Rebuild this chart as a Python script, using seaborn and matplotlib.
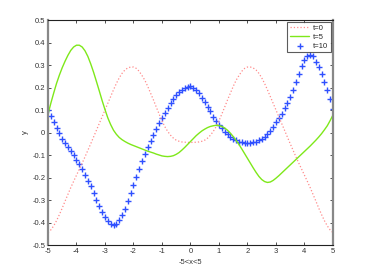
import numpy as np
import pandas as pd
import matplotlib
matplotlib.use("Agg")
import matplotlib.pyplot as plt
import seaborn as sns

# x grid shared by the three snapshots
x = np.linspace(-5, 5, 101)

# t=0 (red dotted)
y_t0 = [-0.445, -0.433, -0.415, -0.392, -0.365, -0.336, -0.305, -0.275, -0.245, -0.217,
        -0.190, -0.163, -0.136, -0.108, -0.079, -0.050, -0.020, 0.010, 0.040, 0.070,
        0.100, 0.130, 0.160, 0.190, 0.218, 0.243, 0.263, 0.278, 0.287, 0.291,
        0.291, 0.285, 0.272, 0.253, 0.232, 0.205, 0.175, 0.145, 0.113, 0.082,
        0.052, 0.026, 0.005, -0.012, -0.025, -0.034, -0.039, -0.042, -0.043, -0.044,
        -0.044,
        -0.044, -0.043, -0.042, -0.039, -0.034, -0.025, -0.012, 0.005, 0.026, 0.052,
        0.082, 0.113, 0.145, 0.175, 0.205, 0.232, 0.253, 0.272, 0.285, 0.291,
        0.291, 0.287, 0.278, 0.263, 0.243, 0.218, 0.190, 0.160, 0.130, 0.100,
        0.070, 0.040, 0.010, -0.020, -0.050, -0.079, -0.108, -0.136, -0.163, -0.190,
        -0.217, -0.245, -0.275, -0.305, -0.336, -0.365, -0.392, -0.415, -0.433, -0.445]

# t=5 (green solid)
y_t5 = [0.080, 0.130, 0.175, 0.218, 0.255, 0.288, 0.317, 0.343, 0.365, 0.380,
        0.388, 0.388, 0.380, 0.363, 0.338, 0.305, 0.268, 0.227, 0.185, 0.142,
        0.102, 0.065, 0.035, 0.010, -0.008, -0.022, -0.032, -0.040, -0.047, -0.053,
        -0.058, -0.063, -0.068, -0.073, -0.078, -0.083, -0.087, -0.091, -0.096, -0.100,
        -0.104, -0.106, -0.107, -0.106, -0.103, -0.097, -0.089, -0.078, -0.066, -0.053,
        -0.040,
        -0.027, -0.014, -0.003, 0.007, 0.015, 0.022, 0.027, 0.030, 0.032, 0.031,
        0.027, 0.020, 0.010, -0.003, -0.018, -0.035, -0.053, -0.073, -0.094, -0.115,
        -0.136, -0.157, -0.177, -0.195, -0.209, -0.218, -0.222, -0.220, -0.213, -0.203,
        -0.192, -0.180, -0.168, -0.156, -0.144, -0.132, -0.120, -0.108, -0.096, -0.084,
        -0.072, -0.060, -0.047, -0.034, -0.020, -0.005, 0.012, 0.030, 0.053, 0.078]

# t=10 (blue plus markers)
y_t10 = [0.100, 0.075, 0.048, 0.021, -0.004, -0.027, -0.045, -0.063, -0.081, -0.101,
         -0.121, -0.140, -0.162, -0.187, -0.214, -0.239, -0.267, -0.298, -0.327, -0.353,
         -0.376, -0.393, -0.405, -0.410, -0.407, -0.390, -0.368, -0.339, -0.304, -0.269,
         -0.232, -0.196, -0.161, -0.125, -0.094, -0.064, -0.039, -0.010, 0.016, 0.042,
         0.065, 0.088, 0.110, 0.130, 0.150, 0.166, 0.180, 0.191, 0.199, 0.204,
         0.205,
         0.200, 0.190, 0.175, 0.155, 0.136, 0.115, 0.094, 0.070, 0.050,
         0.032, 0.018, 0.004, -0.008, -0.018, -0.027, -0.034, -0.040, -0.044, -0.045,
         -0.045, -0.045, -0.043, -0.040, -0.035, -0.029, -0.020, -0.008, 0.008, 0.026,
         0.045, 0.064, 0.084, 0.107, 0.133, 0.160, 0.190, 0.225, 0.260, 0.295,
         0.323, 0.340, 0.345, 0.338, 0.315, 0.290, 0.260, 0.225, 0.190, 0.150, 0.105]

labels = ['t=0', 't=5', 't=10']

sns.set_style('ticks')
plt.rcParams['font.family'] = ['Liberation Sans', 'DejaVu Sans']
plt.rcParams['axes.unicode_minus'] = False

fig = plt.figure(figsize=(3.69, 2.76), dpi=100)
ax = fig.add_axes([0.13, 0.1123, 0.7724, 0.8152])

sns.lineplot(x=x, y=y_t0, ax=ax, color='#ff8a8a', linestyle=':', linewidth=0.9, label=labels[0])
sns.lineplot(x=x, y=y_t5, ax=ax, color='#7ee81a', linewidth=1.0, label=labels[1])
sns.scatterplot(x=x, y=y_t10, ax=ax, marker='+', color='#2f50ff', s=14, linewidth=1.0, label=labels[2])

ax.set_xlim(-5, 5)
ax.set_ylim(-0.5, 0.5)
ax.set_xticks(range(-5, 6))
ax.set_yticks(np.round(np.arange(-0.5, 0.51, 0.1), 1))
ax.set_yticklabels(['-0.5', '-0.4', '-0.3', '-0.2', '-0.1', '0', '0.1', '0.2', '0.3', '0.4', '0.5'])
ax.tick_params(direction='in', length=2.5, width=0.6, labelsize=5.5, colors='#333333',
               top=True, right=True, pad=2)
for s in ['top', 'bottom']:
    ax.spines[s].set_color('#222222')
    ax.spines[s].set_linewidth(0.8)
for s in ['left', 'right']:
    ax.spines[s].set_color('#888888')
    ax.spines[s].set_linewidth(1.6)
    ax.spines[s].set_visible(True)
ax.spines['top'].set_visible(True)

ax.set_xlabel('-5<x<5', fontsize=5.5, color='#333333', labelpad=3)
ax.set_ylabel('y', fontsize=5.5, color='#333333', labelpad=2)

leg = ax.legend(loc='upper right', fontsize=5.5, frameon=True, fancybox=False,
                edgecolor='#333333', borderaxespad=0.3, handlelength=2.6,
                borderpad=0.3, labelspacing=0.2, handletextpad=0.5)
leg.get_frame().set_linewidth(0.8)

fig.savefig('out.png', dpi=100)
